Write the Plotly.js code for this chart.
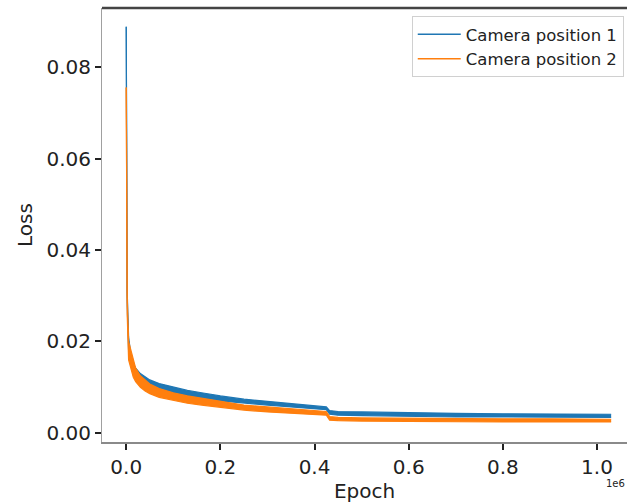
<!DOCTYPE html>
<html>
<head>
<meta charset="utf-8">
<script src="https://cdn.plot.ly/plotly-3.0.1.min.js"></script>
<style>html,body{margin:0;padding:0;background:#fff;}#chart{width:627px;height:503px;}</style>
</head>
<body>
<div id="chart"></div>
<script>
// Epoch (x 1e6)
const epoch = [0, 0.002, 0.005, 0.01, 0.015, 0.02, 0.03, 0.04, 0.05, 0.07, 0.1, 0.13, 0.16, 0.2, 0.25, 0.3, 0.35, 0.4, 0.425, 0.432, 0.45, 0.5, 0.6, 0.7, 0.8, 0.9, 1.0, 1.03];
// Camera position 1 loss band (upper / lower envelope of the noisy curve)
const cam1Hi = [0.0888, 0.031, 0.021, 0.0170, 0.0152, 0.0142, 0.0130, 0.0122, 0.0116, 0.0108, 0.0100, 0.0093, 0.0088, 0.0081, 0.0074, 0.0069, 0.0064, 0.0059, 0.0057, 0.0049, 0.0047, 0.0046, 0.0044, 0.0043, 0.0042, 0.0042, 0.0041, 0.0041];
const cam1Lo = [0.0888, 0.028, 0.018, 0.0150, 0.0132, 0.0124, 0.0113, 0.0106, 0.0101, 0.0094, 0.0087, 0.0081, 0.0076, 0.0070, 0.0065, 0.0061, 0.0057, 0.0053, 0.0051, 0.0041, 0.0039, 0.0038, 0.0036, 0.0035, 0.0035, 0.0034, 0.0034, 0.0034];
// Camera position 2 loss band
const cam2Hi = [0.0755, 0.030, 0.020, 0.0180, 0.0156, 0.0142, 0.0125, 0.0115, 0.0107, 0.0097, 0.0088, 0.0081, 0.0076, 0.0068, 0.0061, 0.0057, 0.0053, 0.0049, 0.0047, 0.0036, 0.0034, 0.0033, 0.0032, 0.0031, 0.0031, 0.0031, 0.0030, 0.0030];
const cam2Lo = [0.0755, 0.026, 0.016, 0.0138, 0.0122, 0.0112, 0.0100, 0.0092, 0.0086, 0.0078, 0.0071, 0.0065, 0.0061, 0.0056, 0.0050, 0.0046, 0.0043, 0.0041, 0.0039, 0.0028, 0.0027, 0.0026, 0.0025, 0.0024, 0.0024, 0.0024, 0.0024, 0.0024];
const seriesNames = ['Camera position 1', 'Camera position 2'];
const xTicks = [0, 0.2, 0.4, 0.6, 0.8, 1.0];
const xTickText = ['0.0', '0.2', '0.4', '0.6', '0.8', '1.0'];
const yTicks = [0, 0.02, 0.04, 0.06, 0.08];
const yTickText = ['0.00', '0.02', '0.04', '0.06', '0.08'];

const blue = '#1f77b4', orange = '#ff7f0e';
const band = (y, color, fill) => ({x: epoch, y: y, mode: 'lines', line: {color: color, width: 1.2}, fill: fill ? 'tonexty' : 'none', fillcolor: color, showlegend: false, hoverinfo: 'skip'});
const legendLine = (name, color) => ({x: [null], y: [null], mode: 'lines', name: name, line: {color: color, width: 1.5}});

const data = [
  band(cam1Lo, blue, false), band(cam1Hi, blue, true),
  band(cam2Lo, orange, false), band(cam2Hi, orange, true),
  legendLine(seriesNames[0], blue), legendLine(seriesNames[1], orange)
];

const layout = {
  width: 627, height: 503,
  margin: {l: 102, r: 0, t: 8, b: 61, autoexpand: false},
  paper_bgcolor: '#fff', plot_bgcolor: '#fff',
  font: {family: 'DejaVu Sans', color: '#222'},
  xaxis: {
    range: [-0.0515, 1.0637], tickvals: xTicks, ticktext: xTickText,
    showgrid: false, zeroline: false, showline: true, linecolor: '#8a8a8a', linewidth: 1.5,
    ticks: 'outside', ticklen: 6, tickwidth: 2, tickcolor: '#222',
    tickfont: {size: 20, family: 'DejaVu Sans', color: '#222'},
    title: {text: 'Epoch', font: {size: 20, family: 'DejaVu Sans', color: '#222'}, standoff: 2}
  },
  yaxis: {
    range: [-0.00197, 0.0929], tickvals: yTicks, ticktext: yTickText,
    showgrid: false, zeroline: false, showline: true, linecolor: '#a0a0a0', linewidth: 1,
    ticks: 'outside', ticklen: 6, tickwidth: 2, tickcolor: '#222',
    tickfont: {size: 20, family: 'DejaVu Sans', color: '#222'},
    title: {text: 'Loss', font: {size: 20, family: 'DejaVu Sans', color: '#222'}, standoff: 8}
  },
  shapes: [{type: 'line', xref: 'paper', yref: 'paper', x0: 0, x1: 1.02, y0: 1, y1: 1, line: {color: '#444', width: 2.5}}],
  legend: {
    x: 0.59, y: 0.9816, xanchor: 'left', yanchor: 'top',
    traceorder: 'normal',
    bgcolor: '#fff', bordercolor: '#d0d0d0', borderwidth: 1,
    font: {size: 16.5, family: 'DejaVu Sans', color: '#222'},
    itemwidth: 43, tracegroupgap: 0
  },
  annotations: [{xref: 'paper', yref: 'paper', x: 1, y: -0.0945, xanchor: 'right', yanchor: 'middle', text: '1e6', showarrow: false, font: {size: 10, family: 'DejaVu Sans', color: '#222'}}]
};

Plotly.newPlot('chart', data, layout, {displayModeBar: false, staticPlot: true});
</script>
</body>
</html>
